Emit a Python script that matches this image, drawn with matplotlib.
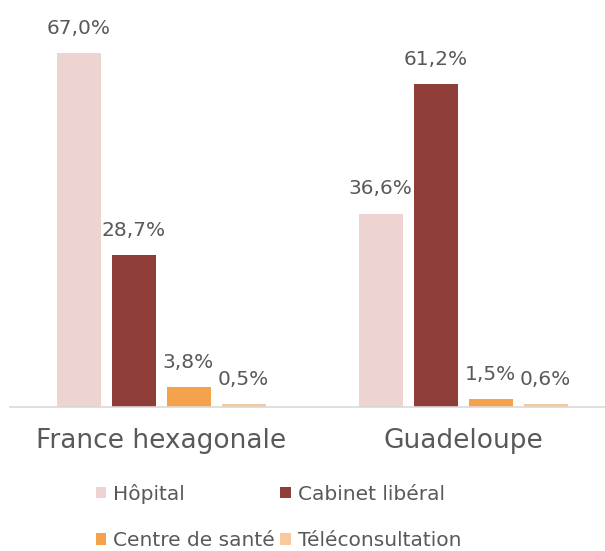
import matplotlib.pyplot as plt
import numpy as np
from matplotlib.patches import Patch

regions = ["France hexagonale", "Guadeloupe"]
series = ["Hôpital", "Cabinet libéral", "Centre de santé", "Téléconsultation"]
hopital = [67.0, 36.6]
cabinet = [28.7, 61.2]
centre = [3.8, 1.5]
tele = [0.5, 0.6]
colors = ["#EED3D3", "#8E3D38", "#F4A24C", "#F8C99D"]

plt.rcParams['font.family'] = ['DejaVu Sans']
txt = "#595959"

fig = plt.figure(figsize=(6.05, 5.51), dpi=100)
ax = fig.add_axes([10 / 605, 1 - 407 / 551, 1 - 10 / 605, (407 - 37.4) / 551])

x = np.arange(len(regions))
w = 44 / 302
step = 55 / 302
valeurs = [hopital, cabinet, centre, tele]
for i, (nom, vals) in enumerate(zip(series, valeurs)):
    pos = x + (i - 1.5) * step
    ax.bar(pos, vals, width=w, color=colors[i], label=nom)
    for px, v in zip(pos, vals):
        lbl = f"{v:.1f}%".replace(".", ",")
        ax.annotate(lbl, (px, v), xytext=(0, 11), textcoords="offset points",
                    ha="center", va="bottom", fontsize=14.5, color=txt)

ax.set_xlim(-0.5, 1.47)
ax.set_ylim(0, 70)
ax.set_yticks([])
ax.set_xticks(x)
ax.set_xticklabels(regions, fontsize=19, color=txt)
ax.tick_params(axis="x", length=0, pad=15)
for s in ["top", "left", "right"]:
    ax.spines[s].set_visible(False)
ax.spines["bottom"].set_color("#D9D9D9")
ax.spines["bottom"].set_linewidth(1.2)

# ordre colonne par colonne pour avoir Hôpital / Cabinet sur la 1re ligne
ordre = [0, 2, 1, 3]
handles = [Patch(facecolor=colors[k], label=series[k]) for k in ordre]
fig.legend(handles=handles, loc="center", bbox_to_anchor=(0.46, 1 - 517 / 551),
           ncol=2, frameon=False, fontsize=14.5, labelcolor=txt,
           handlelength=0.5, handleheight=0.5, handletextpad=0.35,
           columnspacing=0.3, labelspacing=1.35)

fig.savefig("out.png", dpi=100)
